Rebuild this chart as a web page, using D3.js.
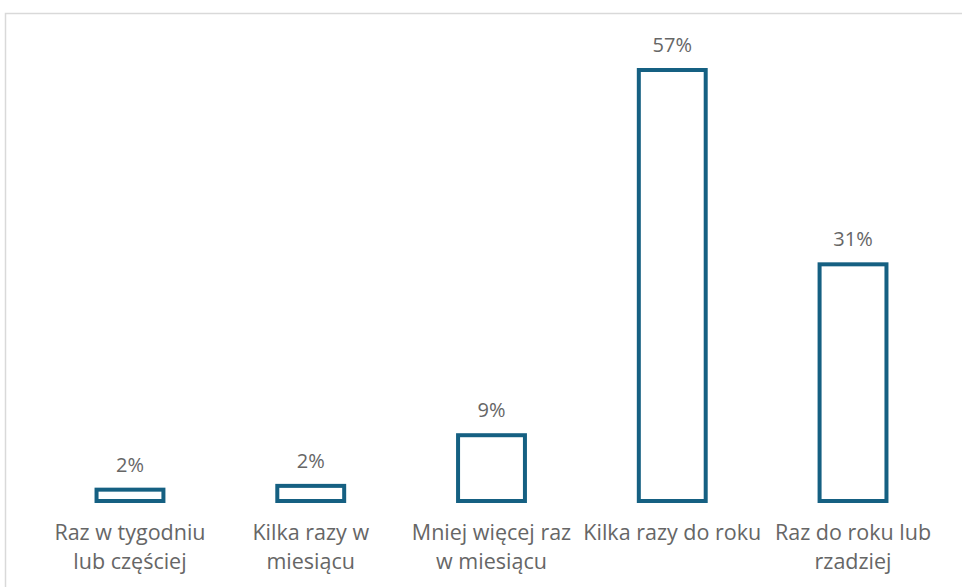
<!DOCTYPE html>
<html>
<head>
<meta charset="utf-8">
<script src="https://cdn.jsdelivr.net/npm/d3@7"></script>
<style>
  body { margin: 0; background: #fff; }
  svg { display: block; font-family: 'Open Sans', sans-serif; }
</style>
</head>
<body>
<div id="chart"></div>
<script>

// Data.

var categories = [
  'Raz w tygodniu\nlub częściej',
  'Kilka razy w\nmiesiącu',
  'Mniej więcej raz\nw miesiącu',
  'Kilka razy do roku',
  'Raz do roku lub\nrzadziej'
];

var values = [1.5, 2.0, 8.7, 57, 31.3];

var valueLabels = ['2%', '2%', '9%', '57%', '31%'];

var width = 962,
  height = 587;

var svg = d3.select('#chart')
  .append('svg')
  .attr('width', width)
  .attr('height', height);

// Chart area frame (only top and left edges are in view).

svg.append('rect')
  .attr('x', 5.5)
  .attr('y', 13.5)
  .attr('width', width + 20)
  .attr('height', height + 20)
  .attr('fill', 'none')
  .attr('stroke', '#d9d9d9')
  .attr('stroke-width', 1.5);

var xScale = d3.scaleBand()
  .domain(categories)
  .range([39.6, 943.4])
  .paddingInner(0.63)
  .paddingOuter(0.315);

var yScale = d3.scaleLinear()
  .domain([0, 57])
  .range([501, 70]);

var data = categories.map(function(c, i) {
  return { cat: c, value: values[i], label: valueLabels[i] };
});

// Bars, outline only.

svg.selectAll('rect.bar')
  .data(data)
  .enter()
  .append('rect')
  .attr('class', 'bar')
  .attr('x', function(d) { return xScale(d.cat); })
  .attr('y', function(d) { return yScale(d.value); })
  .attr('width', xScale.bandwidth())
  .attr('height', function(d) { return yScale(0) - yScale(d.value); })
  .attr('fill', '#fff')
  .attr('stroke', '#156082')
  .attr('stroke-width', 4);

// Value labels.

svg.selectAll('text.value')
  .data(data)
  .enter()
  .append('text')
  .attr('class', 'value')
  .attr('x', function(d) { return xScale(d.cat) + xScale.bandwidth() / 2; })
  .attr('y', function(d) { return yScale(d.value) - 18; })
  .attr('text-anchor', 'middle')
  .attr('fill', '#666')
  .style('font-size', '20px')
  .text(function(d) { return d.label; });

// Category labels, wrapped as in the original.

var catText = svg.selectAll('text.cat')
  .data(data)
  .enter()
  .append('text')
  .attr('class', 'cat')
  .attr('text-anchor', 'middle')
  .attr('fill', '#666')
  .style('font-size', '21.5px');

catText.selectAll('tspan')
  .data(function(d) {
    return d.cat.split('\n').map(function(line) {
      return { line: line, x: xScale(d.cat) + xScale.bandwidth() / 2 };
    });
  })
  .enter()
  .append('tspan')
  .attr('x', function(d) { return d.x; })
  .attr('y', function(d, i) { return 540 + i * 29; })
  .text(function(d) { return d.line; });

</script>
</body>
</html>
